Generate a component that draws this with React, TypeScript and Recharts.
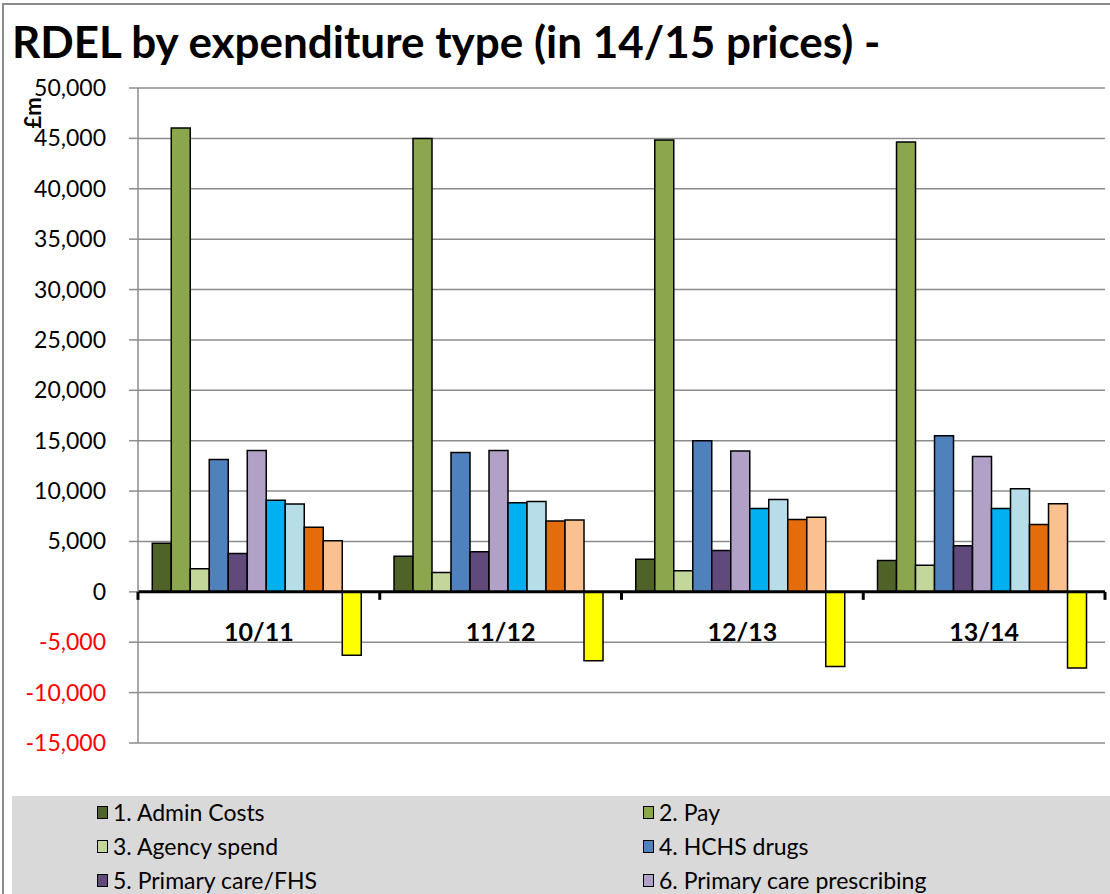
import React from 'react';
import { BarChart, Bar, XAxis, YAxis, CartesianGrid, ReferenceLine } from 'recharts';

const categories = ['10/11', '11/12', '12/13', '13/14'];

const adminCosts = [4830, 3540, 3240, 3110];
const pay = [46030, 45000, 44850, 44650];
const agencySpend = [2280, 1920, 2090, 2650];
const hchsDrugs = [13140, 13840, 14990, 15490];
const primaryCareFhs = [3810, 3970, 4100, 4570];
const primaryCarePrescribing = [14030, 14030, 13970, 13440];
const series7 = [9100, 8840, 8280, 8280];
const series8 = [8710, 8970, 9170, 10230];
const series9 = [6420, 7030, 7180, 6690];
const series10 = [5060, 7120, 7410, 8740];
const series11 = [-6290, -6850, -7410, -7550];

const seriesNames = [
  '1. Admin Costs',
  '2. Pay',
  '3. Agency spend',
  '4. HCHS drugs',
  '5. Primary care/FHS',
  '6. Primary care prescribing',
  '7',
  '8',
  '9',
  '10',
  '11',
];
const seriesValues = [
  adminCosts, pay, agencySpend, hchsDrugs, primaryCareFhs, primaryCarePrescribing,
  series7, series8, series9, series10, series11,
];
const seriesColors = [
  '#4f6228', '#8ba64c', '#c4d79b', '#4f81bd', '#604a7b', '#b2a1c7',
  '#00b0f0', '#b7dee8', '#e46c0a', '#fac090', '#ffff00',
];
const visibleLegendCount = 6;

const yTicks = [-15000, -10000, -5000, 0, 5000, 10000, 15000, 20000, 25000, 30000, 35000, 40000, 45000, 50000];
const yMin = -15000;
const yMax = 50000;

const title = 'RDEL by expenditure type (in 14/15 prices) -';
const yAxisTitle = '£m';

const data = categories.map((c, i) => {
  const row: any = { category: c };
  seriesValues.forEach((vals, s) => {
    row['s' + s] = vals[i];
  });
  return row;
});

const FONT = 'Lato, "Open Sans", sans-serif';

const CHART_W = 1110;
const CHART_H = 894;
const M_TOP = 88;
const M_RIGHT = 5;
const M_BOTTOM = 121;
const X_AXIS_H = 30;
const Y_AXIS_W = 138;
const PLOT_H = CHART_H - M_TOP - M_BOTTOM - X_AXIS_H;
const PLOT_W = CHART_W - M_RIGHT - Y_AXIS_W;

const fmt = (v: number) => {
  const s = Math.abs(v).toLocaleString('en-US');
  return v < 0 ? '-' + s : s;
};

const YTick = (props: any) => {
  const { x, y, payload } = props;
  return (
    <text
      x={x}
      y={y}
      dy={8}
      textAnchor="end"
      fill={payload.value < 0 ? '#ff0000' : '#000000'}
      fontSize={23}
      fontFamily={FONT}
    >
      {fmt(payload.value)}
    </text>
  );
};

const XTick = (props: any) => {
  const { x, y, payload, index } = props;
  const zeroShift = (PLOT_H * (0 - yMin)) / (yMax - yMin);
  const zeroY = y - zeroShift;
  const band = PLOT_W / categories.length;
  const left = x - band / 2;
  const right = x + band / 2;
  return (
    <g>
      <line x1={left} x2={left} y1={zeroY} y2={zeroY + 8} stroke="#000" strokeWidth={3} />
      {index === categories.length - 1 && (
        <line x1={right} x2={right} y1={zeroY} y2={zeroY + 8} stroke="#000" strokeWidth={3} />
      )}
      <text
        x={x}
        y={zeroY + 49}
        textAnchor="middle"
        fill="#000"
        fontSize={25}
        fontWeight="bold"
        fontFamily={FONT}
      >
        {payload.value}
      </text>
    </g>
  );
};

export default function App() {
  return (
    <div
      style={{
        position: 'absolute',
        left: 0,
        top: 0,
        width: CHART_W,
        height: CHART_H,
        overflow: 'hidden',
        background: '#fff',
      }}
    >
      <div
        style={{
          position: 'absolute',
          left: 2,
          top: 3,
          width: 1300,
          height: 1100,
          border: '2px solid #8c8c8c',
          boxSizing: 'border-box',
        }}
      />
      <div style={{ position: 'absolute', left: 0, top: 0 }}>
        <BarChart
          width={CHART_W}
          height={CHART_H}
          data={data}
          margin={{ top: M_TOP, right: M_RIGHT, bottom: M_BOTTOM, left: 0 }}
          barCategoryGap="5.9%"
          barGap={0}
        >
          <CartesianGrid vertical={false} stroke="#8c8c8c" strokeWidth={1.5} />
          <XAxis
            dataKey="category"
            height={X_AXIS_H}
            axisLine={false}
            tickLine={false}
            tickSize={0}
            tickMargin={0}
            interval={0}
            tick={<XTick />}
          />
          <YAxis
            type="number"
            domain={[yMin, yMax]}
            ticks={yTicks}
            width={Y_AXIS_W}
            interval={0}
            axisLine={{ stroke: '#8c8c8c', strokeWidth: 1.5 }}
            tickLine={{ stroke: '#8c8c8c', strokeWidth: 1.5 }}
            tickSize={9}
            tickMargin={23}
            tick={<YTick />}
          />
          {seriesValues.map((_, s) => (
            <Bar
              key={s}
              dataKey={'s' + s}
              name={seriesNames[s]}
              fill={seriesColors[s]}
              stroke="#000"
              strokeWidth={1.5}
              isAnimationActive={false}
            />
          ))}
          <ReferenceLine y={0} stroke="#000" strokeWidth={3} />
        </BarChart>
      </div>
      <div
        style={{
          position: 'absolute',
          left: 12,
          top: 19,
          fontFamily: FONT,
          fontWeight: 'bold',
          fontSize: 44,
          lineHeight: '44px',
          color: '#000',
          whiteSpace: 'nowrap',
        }}
      >
        {title}
      </div>
      <div
        style={{
          position: 'absolute',
          left: 33,
          top: 113,
          transform: 'translate(-50%, -50%) rotate(-90deg)',
          fontFamily: FONT,
          fontSize: 22,
          fontWeight: 'bold',
          lineHeight: '22px',
          color: '#000',
          whiteSpace: 'nowrap',
        }}
      >
        {yAxisTitle}
      </div>
      <div
        style={{
          position: 'absolute',
          left: 12,
          top: 796,
          width: 1200,
          height: 200,
          background: '#d9d9d9',
        }}
      >
        {seriesNames.slice(0, visibleLegendCount).map((name, i) => {
          const col = i % 2;
          const row = Math.floor(i / 2);
          return (
            <div
              key={name}
              style={{
                position: 'absolute',
                left: col === 0 ? 85 : 631,
                top: 16 + row * 34 - 13,
                height: 26,
                display: 'flex',
                alignItems: 'center',
                fontFamily: FONT,
                fontSize: 23,
                lineHeight: '26px',
                color: '#000',
                whiteSpace: 'nowrap',
              }}
            >
              <span
                style={{
                  display: 'inline-block',
                  width: 9,
                  height: 11,
                  background: seriesColors[i],
                  border: '1.5px solid #000',
                  marginRight: 5,
                }}
              />
              {name}
            </div>
          );
        })}
      </div>
    </div>
  );
}
